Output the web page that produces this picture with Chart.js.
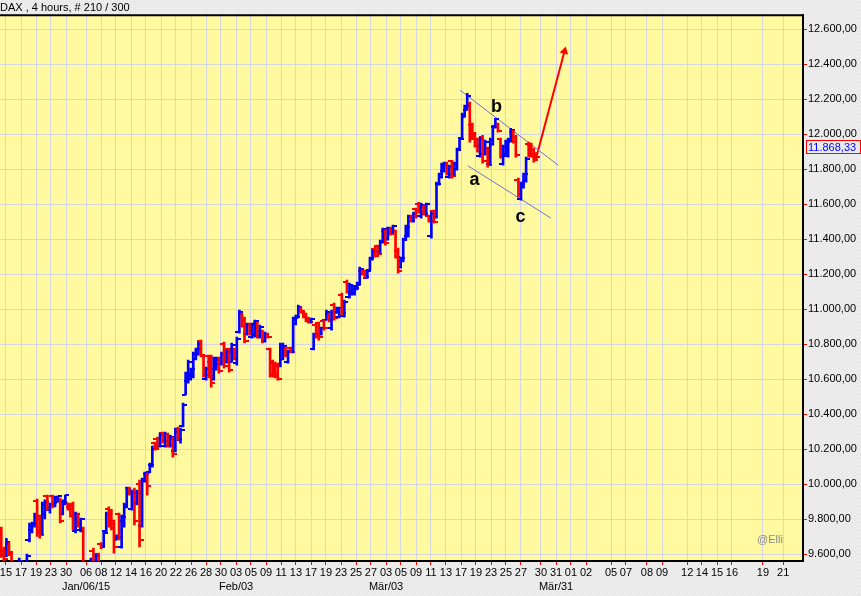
<!DOCTYPE html>
<html>
<head>
<meta charset="utf-8">
<script src="https://cdn.jsdelivr.net/npm/chart.js@4.4.0/dist/chart.umd.min.js"></script>
<style>
  html, body { margin: 0; padding: 0; background: #ececec; }
  canvas { display: block; }
</style>
</head>
<body>
<canvas id="chart" width="861" height="596"></canvas>
<script>
// DAX 4h bars, Dec 15 2014 - Mar 27 2015
const opens = [
  9745, 9620, 9590, 9660, 9600, 9550, 9480, 9520, 9555, 9500,
  9540, 9680, 9740, 9770, 9905, 9800, 9720, 9830, 9930, 9850,
  9930, 9880, 9900, 9915, 9830, 9900, 9890, 9870, 9880, 9730,
  9830, 9740, 9750, 9480, 9430, 9500, 9620, 9500, 9600, 9660,
  9640, 9730, 9860, 9830, 9790, 9680, 9830, 9640, 9790, 9870,
  9975, 9860, 9960, 9890, 10000, 9760, 10030, 10060, 10070, 10110,
  10235, 10260, 10220, 10290, 10220, 10285, 10220, 10260, 10190, 10315,
  10250, 10330, 10510, 10590, 10600, 10620, 10715, 10745, 10815, 10730,
  10600, 10730, 10700, 10600, 10660, 10720, 10685, 10800, 10695, 10770,
  10700, 10770, 10690, 10870, 10970, 10940, 10860, 10915, 10840, 10850,
  10920, 10840, 10875, 10815, 10860, 10770, 10700, 10690, 10680, 10675,
  10715, 10775, 10700, 10780, 10755, 10915, 10950, 11005, 10990, 10970,
  10950, 10925, 10770, 10910, 10920, 10855, 10930, 10940, 10970, 10890,
  11025, 10980, 10955, 11080, 10960, 11155, 11070, 11085, 11090, 11115,
  11140, 11220, 11215, 11180, 11225, 11285, 11345, 11360, 11325, 11385,
  11445, 11400, 11465, 11440, 11445, 11330, 11240, 11275, 11400, 11420,
  11530, 11505, 11570, 11600, 11530, 11590, 11545, 11530, 11420, 11560,
  11525, 11715, 11755, 11790, 11830, 11755, 11845, 11770, 11800, 11915,
  11980, 12100, 12140, 12175, 12055, 12000, 11970, 11875, 11985, 11885,
  11920, 11830, 11945, 12040, 12060, 11970, 11830, 11885, 11875, 11960,
  12015, 11985, 11740, 11630, 11700, 11735, 11945, 11940, 11910, 11885
];
const highs = [
  9754, 9640, 9690, 9665, 9610, 9555, 9540, 9577, 9560, 9550,
  9600, 9777, 9783, 9834, 9914, 9823, 9897, 9909, 9937, 9891,
  9937, 9931, 9931, 9920, 9909, 9937, 9891, 9891, 9897, 9840,
  9834, 9806, 9754, 9500, 9520, 9577, 9634, 9600, 9605, 9665,
  9730, 9840, 9870, 9855, 9794, 9710, 9834, 9823, 9891, 9983,
  9983, 9966, 9977, 9966, 10023, 10034, 10069, 10063, 10120, 10217,
  10240, 10269, 10291, 10297, 10297, 10291, 10280, 10269, 10320, 10326,
  10320, 10463, 10640, 10709, 10663, 10754, 10777, 10811, 10823, 10737,
  10669, 10737, 10737, 10726, 10726, 10726, 10754, 10811, 10766, 10777,
  10806, 10777, 10840, 10994, 10977, 10954, 10920, 10920, 10920, 10937,
  10926, 10909, 10880, 10869, 10863, 10777, 10709, 10697, 10691, 10806,
  10806, 10783, 10766, 10783, 10954, 10966, 11023, 11011, 10994, 10977,
  10954, 10949, 10863, 10920, 10926, 10897, 10937, 10994, 10977, 10994,
  11034, 11011, 11011, 11091, 11051, 11166, 11149, 11137, 11126, 11154,
  11240, 11223, 11223, 11223, 11297, 11337, 11354, 11366, 11394, 11463,
  11451, 11469, 11469, 11480, 11451, 11349, 11297, 11406, 11480, 11537,
  11537, 11554, 11577, 11611, 11606, 11594, 11606, 11537, 11554, 11566,
  11726, 11777, 11834, 11840, 11840, 11823, 11851, 11840, 11920, 11977,
  12120, 12166, 12234, 12183, 12063, 12011, 11977, 11983, 11994, 11966,
  11926, 11977, 12051, 12091, 12063, 11977, 11937, 11966, 11977, 12034,
  12023, 11994, 11749, 11726, 11777, 11869, 11954, 11949, 11920, 11895
];
const lows = [
  9580, 9540, 9585, 9590, 9530, 9460, 9450, 9500, 9480, 9470,
  9520, 9669, 9720, 9754, 9700, 9691, 9710, 9800, 9851, 9834,
  9863, 9869, 9897, 9777, 9823, 9880, 9851, 9811, 9737, 9720,
  9754, 9726, 9450, 9400, 9380, 9480, 9480, 9470, 9500, 9630,
  9640, 9725, 9754, 9737, 9605, 9680, 9680, 9634, 9754, 9863,
  9937, 9851, 9766, 9880, 9640, 9754, 10010, 9937, 10063, 10097,
  10194, 10206, 10211, 10234, 10211, 10211, 10211, 10154, 10183, 10251,
  10234, 10326, 10509, 10577, 10594, 10606, 10709, 10737, 10726, 10611,
  10594, 10606, 10554, 10594, 10651, 10634, 10680, 10663, 10691, 10640,
  10697, 10709, 10680, 10863, 10897, 10806, 10851, 10851, 10834, 10840,
  10834, 10834, 10806, 10811, 10834, 10611, 10611, 10606, 10594, 10669,
  10709, 10726, 10691, 10749, 10749, 10909, 10954, 10977, 10949, 10926,
  10920, 10920, 10766, 10834, 10823, 10851, 10880, 10937, 10926, 10880,
  10937, 10977, 10949, 10966, 10954, 11091, 11063, 11080, 11080, 11109,
  11137, 11194, 11177, 11177, 11223, 11280, 11297, 11309, 11320, 11377,
  11366, 11394, 11423, 11434, 11291, 11206, 11234, 11269, 11394, 11411,
  11497, 11497, 11520, 11549, 11520, 11537, 11537, 11497, 11406, 11491,
  11520, 11709, 11749, 11783, 11766, 11749, 11749, 11766, 11794, 11909,
  11977, 12097, 12137, 11954, 11977, 11926, 11897, 11869, 11834, 11880,
  11811, 11823, 11937, 12034, 12011, 11863, 11823, 11880, 11869, 11954,
  11949, 11869, 11640, 11623, 11691, 11726, 11869, 11869, 11840, 11855
];
const closes = [
  9600, 9570, 9670, 9610, 9550, 9480, 9520, 9560, 9500, 9540,
  9590, 9760, 9770, 9820, 9730, 9710, 9880, 9900, 9870, 9880,
  9890, 9925, 9930, 9790, 9900, 9935, 9860, 9820, 9750, 9830,
  9770, 9800, 9480, 9430, 9500, 9560, 9500, 9590, 9530, 9640,
  9720, 9830, 9770, 9750, 9640, 9700, 9700, 9810, 9880, 9970,
  9950, 9950, 9790, 9950, 9680, 10020, 10060, 9990, 10110, 10200,
  10200, 10215, 10280, 10245, 10285, 10225, 10270, 10170, 10300, 10260,
  10310, 10450, 10630, 10700, 10655, 10745, 10770, 10800, 10740, 10625,
  10660, 10620, 10580, 10710, 10720, 10645, 10745, 10675, 10755, 10650,
  10795, 10715, 10830, 10985, 10905, 10820, 10910, 10860, 10910, 10930,
  10845, 10900, 10815, 10860, 10840, 10625, 10630, 10615, 10600, 10795,
  10790, 10735, 10760, 10755, 10940, 10955, 11010, 10985, 10955, 10935,
  10925, 10945, 10850, 10845, 10840, 10890, 10890, 10985, 10935, 10985,
  10950, 11005, 11005, 10975, 11040, 11100, 11140, 11130, 11120, 11150,
  11230, 11200, 11185, 11215, 11290, 11330, 11305, 11315, 11385, 11455,
  11375, 11460, 11430, 11475, 11300, 11220, 11290, 11395, 11470, 11525,
  11505, 11545, 11530, 11560, 11595, 11545, 11600, 11505, 11545, 11500,
  11715, 11770, 11825, 11835, 11775, 11815, 11760, 11830, 11910, 11970,
  12110, 12160, 12220, 11970, 11990, 11935, 11905, 11975, 11845, 11955,
  11825, 11965, 12040, 12085, 12020, 11875, 11925, 11955, 11965, 12025,
  11960, 11880, 11660, 11715, 11770, 11860, 11875, 11880, 11850, 11868.33
];

// x axis: bar index positions of the day ticks
const tickPos = [1.8, 7.7, 13.6, 19.4, 25.3, 33.1, 39.0, 44.8, 50.7, 56.5, 62.4, 68.2, 74.1, 80.0, 85.8,
  91.7, 97.5, 103.4, 109.3, 115.1, 121.0, 126.8, 132.7, 138.6, 144.4,
  150.3, 156.1, 162.0, 167.8, 173.7, 179.6, 185.4, 191.3, 197.1, 203.0,
  210.8, 216.7, 222.5, 228.4, 238.2, 244.0, 252.2, 258.1, 267.9, 273.7, 279.6, 285.4, 297.5, 305.4];
const tickDays = ['15','17','19','23','30','06','08','12','14','16','20','22','26','28','30',
  '03','05','09','11','13','17','19','23','25','27',
  '03','05','09','11','13','17','19','23','25','27',
  '30','31','01','02','05','07','08','09','12','14','15','16','19','21'];
const monthLabels = { 5: 'Jan/06/15', 15: 'Feb/03', 25: 'Mär/03', 36: 'Mär/31' };
const yTicks = [9600, 9800, 10000, 10200, 10400, 10600, 10800, 11000, 11200, 11400, 11600, 11800, 12000, 12200, 12400, 12600];

// drawn-in analysis (bar index, price)
const upperChannel = [{ x: 179.2, y: 12251 }, { x: 217.5, y: 11823 }];
const lowerChannel = [{ x: 182.2, y: 11820 }, { x: 214.7, y: 11520 }];
const arrowPath = [{ x: 209, y: 11868.33 }, { x: 220.0, y: 12474 }];
const waveLabels = [
  { text: 'a', x: 184.8, y: 11709 },
  { text: 'b', x: 193.4, y: 12126 },
  { text: 'c', x: 202.8, y: 11497 }
];

const UP = '#0000ff', DOWN = '#ff0000';
const FONT = "'Liberation Sans', Arial, sans-serif";

function tickImage(color, side) {
  const c = document.createElement('canvas');
  c.width = 8; c.height = 2;
  const g = c.getContext('2d');
  g.fillStyle = color;
  g.fillRect(side === 'left' ? 0 : 4, 0, 4, 2);
  return c;
}
const upOpen = tickImage(UP, 'left'), upClose = tickImage(UP, 'right');
const dnOpen = tickImage(DOWN, 'left'), dnClose = tickImage(DOWN, 'right');

const isUp = closes.map((c, i) => c >= opens[i]);

function de(v) {
  const [i, d] = v.toFixed(2).split('.');
  return i.replace(/\B(?=(\d{3})+(?!\d))/g, '.') + ',' + d;
}

// dotted grey backdrop like the original terminal
const pat = document.createElement('canvas');
pat.width = 4; pat.height = 4;
const pg = pat.getContext('2d');
pg.fillStyle = '#e9e9e9'; pg.fillRect(0, 0, 4, 4);
pg.fillStyle = '#f8f8f8'; pg.fillRect(0, 0, 1, 1); pg.fillRect(2, 2, 1, 1);

const frame = {
  id: 'frame',
  beforeDraw(chart) {
    const { ctx, chartArea: a } = chart;
    ctx.save();
    ctx.fillStyle = ctx.createPattern(pat, 'repeat');
    ctx.fillRect(0, 0, chart.width, chart.height);
    ctx.fillStyle = '#fffa9f';
    ctx.fillRect(a.left, a.top, a.right - a.left, a.bottom - a.top);
    ctx.restore();
  },
  afterDatasetsDraw(chart) {
    const { ctx, chartArea: a, scales: { x, y } } = chart;
    ctx.save();
    ctx.fillStyle = '#000';
    ctx.font = 'bold 18px ' + FONT;
    ctx.textAlign = 'center';
    ctx.textBaseline = 'alphabetic';
    waveLabels.forEach(l => ctx.fillText(l.text, x.getPixelForValue(l.x), y.getPixelForValue(l.y)));

    ctx.font = '11px ' + FONT;
    ctx.fillStyle = '#8a8a8a';
    ctx.textAlign = 'left';
    ctx.textBaseline = 'middle';
    ctx.fillText('@Elli', a.right - 46, a.bottom - 21);
    ctx.restore();
  },
  afterDraw(chart) {
    const { ctx, chartArea: a, scales: { y } } = chart;
    ctx.save();
    ctx.strokeStyle = '#000';
    ctx.lineWidth = 2;
    ctx.beginPath();
    ctx.moveTo(a.left, a.top);
    ctx.lineTo(a.right + 1, a.top);
    ctx.stroke();

    // last price marker on the axis
    const last = closes[closes.length - 1];
    const py = Math.round(y.getPixelForValue(last) - 10);
    ctx.strokeStyle = '#ff0000';
    ctx.lineWidth = 1;
    ctx.strokeRect(a.right + 3.5, py - 6.5, 54, 13);
    ctx.fillStyle = '#0000ff';
    ctx.font = '11px ' + FONT;
    ctx.textBaseline = 'middle';
    ctx.fillText(de(last), a.right + 5, py + 0.5);
    ctx.restore();
  }
};

new Chart(document.getElementById('chart'), {
  type: 'bar',
  data: {
    datasets: [
      {
        type: 'bar',
        data: highs.map((h, i) => ({ x: i, y: [lows[i], h] })),
        backgroundColor: isUp.map(u => u ? UP : DOWN),
        barThickness: 2,
        grouped: false,
        borderWidth: 0
      },
      {
        type: 'scatter',
        data: opens.map((o, i) => ({ x: i, y: o })),
        pointStyle: isUp.map(u => u ? upOpen : dnOpen),
        pointRadius: 2
      },
      {
        type: 'scatter',
        data: closes.map((c, i) => ({ x: i, y: c })),
        pointStyle: isUp.map(u => u ? upClose : dnClose),
        pointRadius: 2
      },
      {
        type: 'line',
        data: upperChannel,
        borderColor: '#7272c6',
        borderWidth: 1,
        pointRadius: 0,
        fill: false
      },
      {
        type: 'line',
        data: lowerChannel,
        borderColor: '#7272c6',
        borderWidth: 1,
        pointRadius: 0,
        fill: false
      },
      {
        type: 'line',
        data: arrowPath,
        borderColor: '#ff0000',
        borderWidth: 2,
        pointRadius: [0, 5],
        pointStyle: 'triangle',
        pointRotation: 15,
        pointBackgroundColor: '#ff0000',
        pointBorderWidth: 0,
        fill: false
      }
    ]
  },
  options: {
    responsive: false,
    animation: false,
    events: [],
    layout: { padding: 0, autoPadding: false },
    scales: {
      x: {
        type: 'linear',
        min: -0.51,
        max: 313.16,
        offset: false,
        afterBuildTicks: s => { s.ticks = tickPos.map(v => ({ value: v })); },
        afterFit: s => { s.height = 35; s.paddingLeft = 0; s.paddingRight = 0; },
        grid: { offset: false, color: '#d6d6e2', lineWidth: 1, tickLength: 4, tickColor: '#ff0000' },
        border: { display: true, color: '#000', width: 2 },
        ticks: {
          autoSkip: false,
          maxRotation: 0,
          padding: 1,
          color: '#000',
          font: { family: FONT, size: 11, lineHeight: 1.27 },
          callback: (v, i) => monthLabels[i] ? [tickDays[i], monthLabels[i]] : tickDays[i]
        }
      },
      y: {
        type: 'linear',
        position: 'right',
        min: 9560,
        max: 12680,
        afterBuildTicks: s => { s.ticks = yTicks.map(v => ({ value: v })); },
        afterFit: s => { s.width = 58; s.paddingTop = 0; s.paddingBottom = 0; },
        grid: { color: '#d6d6e2', lineWidth: 1, tickLength: 4, tickColor: '#ff0000' },
        border: { display: true, color: '#000', width: 2 },
        ticks: {
          padding: 1,
          color: '#000',
          font: { family: FONT, size: 11 },
          callback: v => de(v)
        }
      }
    },
    plugins: {
      legend: { display: false },
      tooltip: { enabled: false },
      title: {
        display: true,
        text: 'DAX , 4 hours, # 210 / 300',
        align: 'start',
        color: '#000',
        font: { family: FONT, size: 11, weight: 'normal', lineHeight: 1.2 },
        padding: { top: 1, bottom: 1 }
      }
    }
  },
  plugins: [frame]
});
</script>
</body>
</html>
